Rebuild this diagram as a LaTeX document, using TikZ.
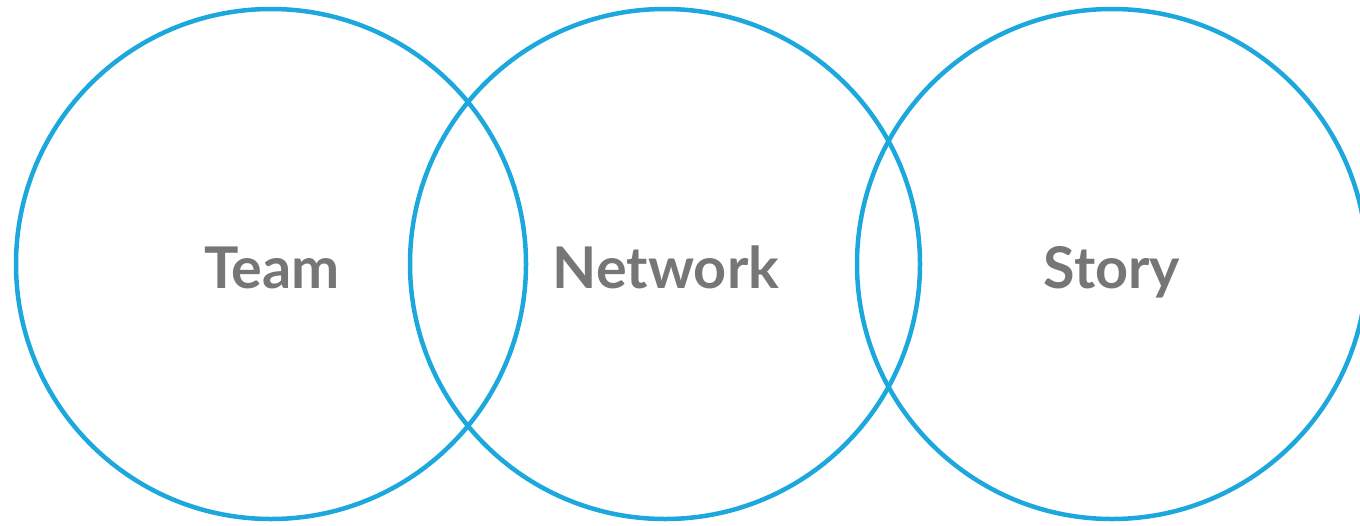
\documentclass[tikz,border=0pt]{standalone}
\usepackage{fontspec}
\setmainfont{Lato}
\definecolor{ring}{HTML}{1CA8DD}
\definecolor{label}{HTML}{767676}
\begin{document}
\begin{tikzpicture}[x=1pt,y=-1pt,
  ringstyle/.style={draw=ring,line width=4.5pt,circle,minimum size=510pt,inner sep=0pt},
  labelstyle/.style={text=label,font=\fontsize{57.5}{69}\selectfont\bfseries,anchor=base,inner sep=0pt}]
\useasboundingbox (0,0) rectangle (1360,525);
\node[ringstyle] (c1) at (271,264) {};
\node[ringstyle] (c2) at (665,264) {};
\node[ringstyle] (c3) at (1112,264) {};
\node[labelstyle] (t1) at (272,288) {Team};
\node[labelstyle] (t2) at (666,288) {Network};
\node[labelstyle] (t3) at (1112,288) {Story};
\end{tikzpicture}
\end{document}
